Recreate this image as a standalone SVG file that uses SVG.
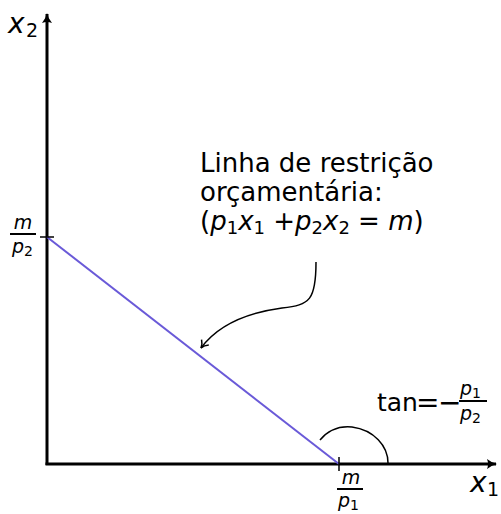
<svg xmlns="http://www.w3.org/2000/svg" width="501" height="514" viewBox="0 0 501 514">
<defs>
<style>
text{font-family:"DejaVu Sans",sans-serif;fill:#000}
.it{font-style:italic}
.ax{stroke:#000;stroke-width:3;fill:none}
.thin{stroke:#000;stroke-width:1.5;fill:none}
</style>
<marker id="ah" markerWidth="12" markerHeight="12" refX="9" refY="6" orient="auto" markerUnits="userSpaceOnUse">
<path d="M2,1.5 Q5,5 9,6 Q5,7 2,10.5" fill="none" stroke="#000" stroke-width="1.5"/>
</marker>
<marker id="axh" markerWidth="14" markerHeight="14" refX="10" refY="7" orient="auto" markerUnits="userSpaceOnUse">
<path d="M1,2 Q6,6 11,7 Q6,8 1,12 Q3,7 1,2Z" fill="#000"/>
</marker>
</defs>
<g id="connectors">
<line class="ax" x1="47" y1="465" x2="47" y2="14" marker-end="url(#axh)"/>
<line class="ax" x1="45.5" y1="464" x2="496" y2="464" marker-end="url(#axh)"/>
<line x1="47" y1="237" x2="339" y2="464" stroke="#6a5ad8" stroke-width="2"/>
<line class="thin" x1="40" y1="237" x2="54" y2="237"/>
<line class="thin" x1="339" y1="457" x2="339" y2="471"/>
<path class="thin" d="M320,440 C330,428 342,426 352,427 C374,430 388,446 388,463"/>
<path class="thin" d="M316,262 C316,300 310,305 282,308 C245,313 218,325 201,348" marker-end="url(#ah)"/>
</g>
<g id="label-x2"><text x="8" y="33" font-size="28" class="it">x</text><text x="26" y="37" font-size="19">2</text></g>
<g id="label-x1"><text x="470" y="492" font-size="28" class="it">x</text><text x="487" y="496" font-size="19">1</text></g>
<g id="label-mp2">
<text x="23" y="229" font-size="19" class="it" text-anchor="middle">m</text>
<line x1="10" y1="234" x2="36" y2="234" stroke="#000" stroke-width="2"/>
<text x="12" y="253" font-size="19" class="it">p</text><text x="24" y="256" font-size="14">2</text>
</g>
<g id="label-mp1">
<text x="351" y="484" font-size="19" class="it" text-anchor="middle">m</text>
<line x1="337" y1="489" x2="363" y2="489" stroke="#000" stroke-width="2"/>
<text x="338" y="507" font-size="19" class="it">p</text><text x="350" y="510" font-size="14">1</text>
</g>
<g id="label-tan">
<text x="377" y="411" font-size="25">tan</text>
<text x="416" y="412" font-size="28">=</text>
<text x="438" y="412" font-size="28">−</text>
<text x="460" y="395" font-size="19" class="it">p</text><text x="472" y="398" font-size="14">1</text>
<line x1="459" y1="401" x2="487" y2="401" stroke="#000" stroke-width="2"/>
<text x="460" y="420" font-size="19" class="it">p</text><text x="472" y="423" font-size="14">2</text>
</g>
<g id="label-budget">
<text x="200" y="172" font-size="26">Linha de restrição</text>
<text x="200" y="201" font-size="26">orçamentária:</text>
<text x="200" y="230" font-size="26">(<tspan class="it">p</tspan><tspan font-size="18" dy="4">1</tspan><tspan class="it" dy="-4">x</tspan><tspan font-size="18" dy="4">1</tspan><tspan dy="-4"> +</tspan><tspan class="it">p</tspan><tspan font-size="18" dy="4">2</tspan><tspan class="it" dy="-4">x</tspan><tspan font-size="18" dy="4">2</tspan><tspan dy="-4"> = </tspan><tspan class="it">m</tspan>)</text>
</g>
</svg>
